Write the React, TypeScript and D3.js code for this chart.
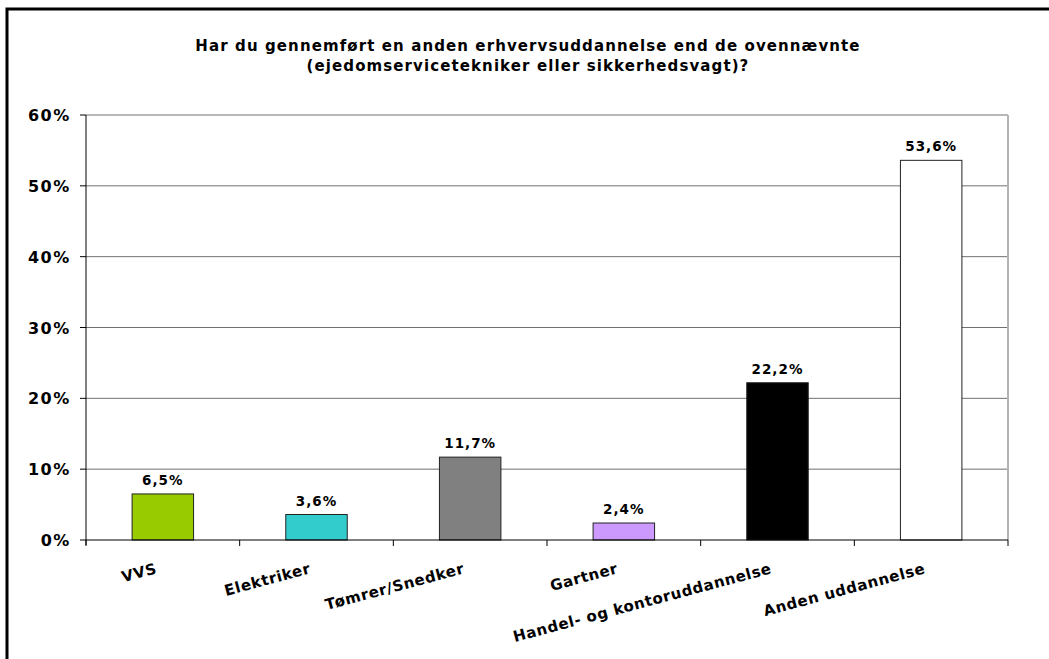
import React from 'react'
import * as d3 from 'd3'

const categories = ['VVS', 'Elektriker', 'Tømrer/Snedker', 'Gartner', 'Handel- og kontoruddannelse', 'Anden uddannelse']
const values = [6.5, 3.6, 11.7, 2.4, 22.2, 53.6]
const barColors = ['#99cc00', '#33cccc', '#808080', '#cc99ff', '#000000', '#ffffff']
const yTicks = [0, 10, 20, 30, 40, 50, 60]
const titleLines = [
  'Har du gennemført en anden erhvervsuddannelse end de ovennævnte',
  '(ejedomservicetekniker eller sikkerhedsvagt)?',
]

const font = '"DejaVu Sans", Verdana, sans-serif'

export default function App() {
  const width = 1049
  const height = 659
  const left = 86
  const right = 1008
  const top = 115
  const bottom = 540

  const x = d3.scaleBand<string>().domain(categories).range([left, right]).paddingInner(0).paddingOuter(0)
  const y = d3.scaleLinear().domain([0, 60]).range([bottom, top])
  const bw = x.bandwidth() * 0.4

  const fmt = (v: number) => v.toFixed(1).replace('.', ',') + '%'

  return (
    <svg width={width} height={height} style={{position: 'absolute', left: 0, top: 0, background: '#fff'}}>
      <rect x={7} y={9} width={1100} height={700} fill="#fff" stroke="#000" strokeWidth={3} />

      {titleLines.map((t, i) => (
        <text key={i} x={528} y={51 + i * 20} textAnchor="middle" fontFamily={font} fontWeight="bold"
          fontSize={15} letterSpacing={1.1}>
          {t}
        </text>
      ))}

      {/* gridlines */}
      {yTicks.filter(t => t > 0).map(t => (
        <line key={t} x1={left} x2={right} y1={y(t)} y2={y(t)} stroke="#707070" strokeWidth={1} />
      ))}
      <line x1={right} x2={right} y1={top} y2={bottom} stroke="#b4b4b4" strokeWidth={2} />

      {/* bars */}
      {categories.map((c, i) => {
        const cx = (x(c) as number) + x.bandwidth() / 2
        return (
          <g key={c}>
            <rect x={cx - bw / 2} y={y(values[i])} width={bw} height={bottom - y(values[i])}
              fill={barColors[i]} stroke="#222" strokeWidth={1} />
            <text x={cx} y={y(values[i]) - 9} textAnchor="middle" fontFamily={font} fontWeight="bold"
              fontSize={13.5} letterSpacing={1}>
              {fmt(values[i])}
            </text>
          </g>
        )
      })}

      {/* y axis */}
      <line x1={left} x2={left} y1={top} y2={bottom + 5} stroke="#000" strokeWidth={1} />
      {yTicks.map(t => (
        <g key={t}>
          <line x1={left - 6} x2={left} y1={y(t)} y2={y(t)} stroke="#000" />
          <text x={71} y={y(t) + 6} textAnchor="end" fontFamily={font} fontWeight="bold" fontSize={16} letterSpacing={1.6}>
            {t + '%'}
          </text>
        </g>
      ))}

      {/* x axis */}
      <line x1={left} x2={right} y1={bottom} y2={bottom} stroke="#000" strokeWidth={1} />
      {d3.range(categories.length + 1).map(i => {
        const tx = left + i * x.bandwidth()
        return <line key={i} x1={tx} x2={tx} y1={bottom} y2={bottom + 6} stroke="#000" />
      })}
      {categories.map(c => {
        const cx = (x(c) as number) + x.bandwidth() / 2
        return (
          <text key={c} transform={`translate(${cx - 5},${573}) rotate(-15)`} textAnchor="end"
            fontFamily={font} fontWeight="bold" fontSize={15} letterSpacing={0.6}>
            {c}
          </text>
        )
      })}
    </svg>
  )
}
